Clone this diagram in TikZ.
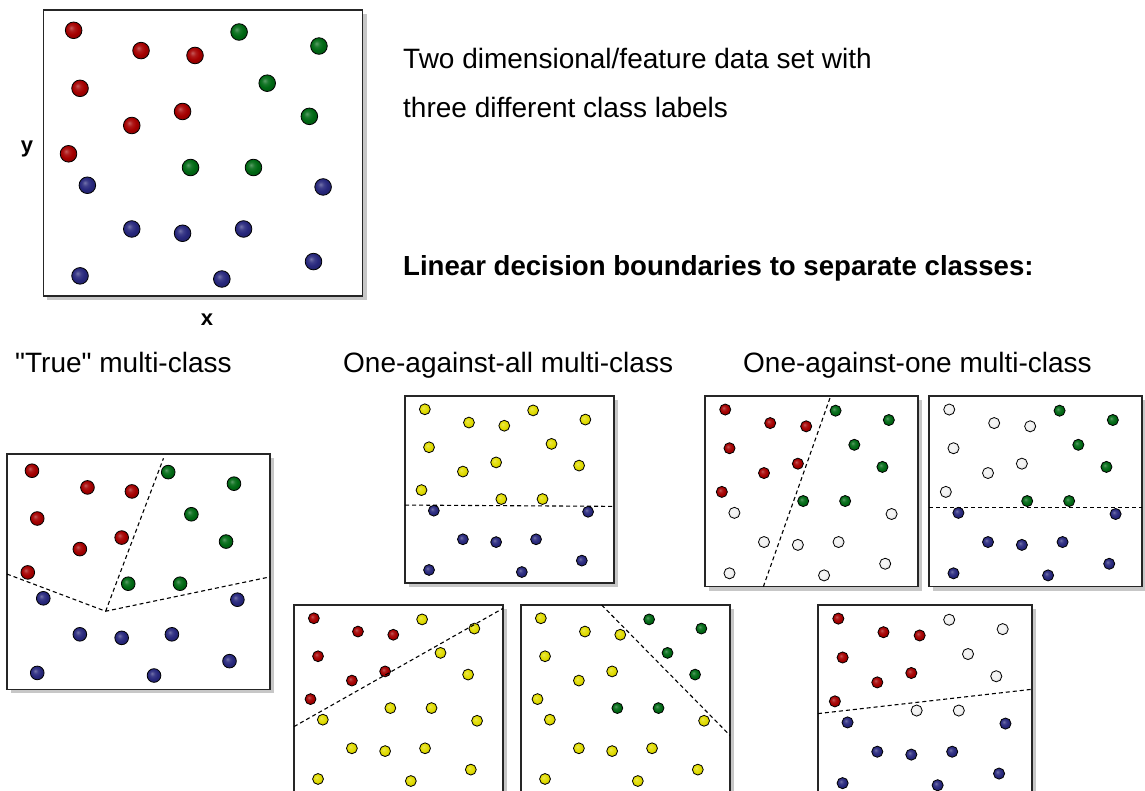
\documentclass[tikz,border=0pt]{standalone}
\usepackage{fontspec}
\setmainfont{Liberation Sans}
\usetikzlibrary{positioning,shadows}

\definecolor{classred}{RGB}{165,0,0}
\definecolor{classgreen}{RGB}{0,105,20}
\definecolor{classblue}{RGB}{40,40,125}
\definecolor{classyellow}{RGB}{225,220,0}
\definecolor{classwhite}{RGB}{242,242,242}
\colorlet{dotcol}{black}

\pgfdeclareradialshading[dotcol]{dotball}{\pgfpoint{-8bp}{8bp}}{color(0bp)=(dotcol!65!white); color(9bp)=(dotcol!90!white); color(18bp)=(dotcol); color(30bp)=(dotcol!80!black); color(50bp)=(dotcol!65!black)}

\tikzset{
  dotcol/.code={\colorlet{dotcol}{#1}},
  dot/.style={draw=black,line width=0.8pt,shading=dotball,dotcol=#1}
}

% the same 21 samples in every panel, as fractions of the panel (u right, v down)
\newcommand{\redpts}{0.095/0.071,0.306/0.142,0.475/0.159,0.115/0.274,0.436/0.355,0.277/0.404,0.079/0.503}
\newcommand{\greenpts}{0.613/0.077,0.863/0.126,0.701/0.256,0.833/0.372,0.461/0.551,0.658/0.551}
\newcommand{\bluepts}{0.138/0.613,0.876/0.619,0.277/0.766,0.436/0.781,0.627/0.766,0.846/0.880,0.115/0.930,0.559/0.941}

% #1 name, #2 #3 top left corner, #4 width, #5-#7 colours given to the three classes, #8 boundary
\newcommand{\classbox}[8]{%
  \pgfmathsetmacro\boxh{0.895*#4}
  \node[panel,minimum width=#4pt,minimum height=\boxh pt,anchor=north west] (#1) at (#2,#3) {};
  \begin{scope}[shift={(#1.north west)},x=#4pt,y=-\boxh pt]
    \foreach \u/\v in \redpts {\shade[dot=#5] (\u,\v) circle[radius=0.026*#4pt];}
    \foreach \u/\v in \greenpts {\shade[dot=#6] (\u,\v) circle[radius=0.026*#4pt];}
    \foreach \u/\v in \bluepts {\shade[dot=#7] (\u,\v) circle[radius=0.026*#4pt];}
    #8
  \end{scope}}

\begin{document}
\begin{tikzpicture}[x=1pt,y=1pt]
  \tikzstyle{note}=[draw=none,inner sep=0,anchor=base west,font=\fontsize{28}{34}\selectfont]
  \tikzstyle{axis}=[draw=none,inner sep=0,font=\fontsize{22}{26}\selectfont\bfseries]
  \tikzstyle{panel}=[draw=black!85,line width=1.3pt,fill=white,inner sep=0,outer sep=0,
                     drop shadow={shadow xshift=4pt,shadow yshift=-4pt,fill=black!22,opacity=1}]
  \tikzstyle{boundary}=[dash pattern=on 4pt off 3pt,line width=1.1pt]

  \useasboundingbox (0,0) rectangle (1145,-790);
  \clip (0,0) rectangle (1145,-790);

  % data set
  \classbox{data}{43.3}{-10}{319.4}{classred}{classgreen}{classblue}{}
  \node[axis] (ylabel) at (27,-148.5) {y};
  \node[axis] (xlabel) at (207,-320) {x};

  \node[note] (desc1) at (403,-68) {Two dimensional/feature data set with};
  \node[note] (desc2) at (403,-117) {three different class labels};
  \node[note,font=\fontsize{27.6}{34}\selectfont\bfseries] (linear) at (403,-275) {Linear decision boundaries to separate classes:};

  \node[note] (truetitle) at (15,-372) {\textquotedbl True\textquotedbl{} multi-class};
  \node[note] (ovatitle) at (343,-372) {One-against-all multi-class};
  \node[note] (ovotitle) at (743,-372) {One-against-one multi-class};

  % "true" multi-class
  \classbox{truemc}{7}{-454}{263}{classred}{classgreen}{classblue}
    {\draw[boundary] (0,0.51) -- (0.375,0.668) -- (1,0.522) (0.375,0.668) -- (0.595,0.018);}

  % one-against-all
  \classbox{ovablue}{405}{-396}{209}{classyellow}{classyellow}{classblue}
    {\draw[boundary] (0,0.583) -- (1,0.59);}
  \classbox{ovared}{294}{-605}{209}{classred}{classyellow}{classyellow}
    {\draw[boundary] (0,0.65) -- (1,0.018);}
  \classbox{ovagreen}{521}{-605}{209}{classyellow}{classgreen}{classyellow}
    {\draw[boundary] (0.386,0) -- (1,0.697);}

  % one-against-one
  \classbox{ovorg}{705}{-396}{213}{classred}{classgreen}{classwhite}
    {\draw[boundary] (0.274,1) -- (0.59,0);}
  \classbox{ovogb}{929}{-396}{213}{classwhite}{classgreen}{classblue}
    {\draw[boundary] (0,0.587) -- (1,0.587);}
  \classbox{ovorb}{818}{-605}{214}{classred}{classwhite}{classblue}
    {\draw[boundary] (0,0.567) -- (1,0.44);}
\end{tikzpicture}
\end{document}
